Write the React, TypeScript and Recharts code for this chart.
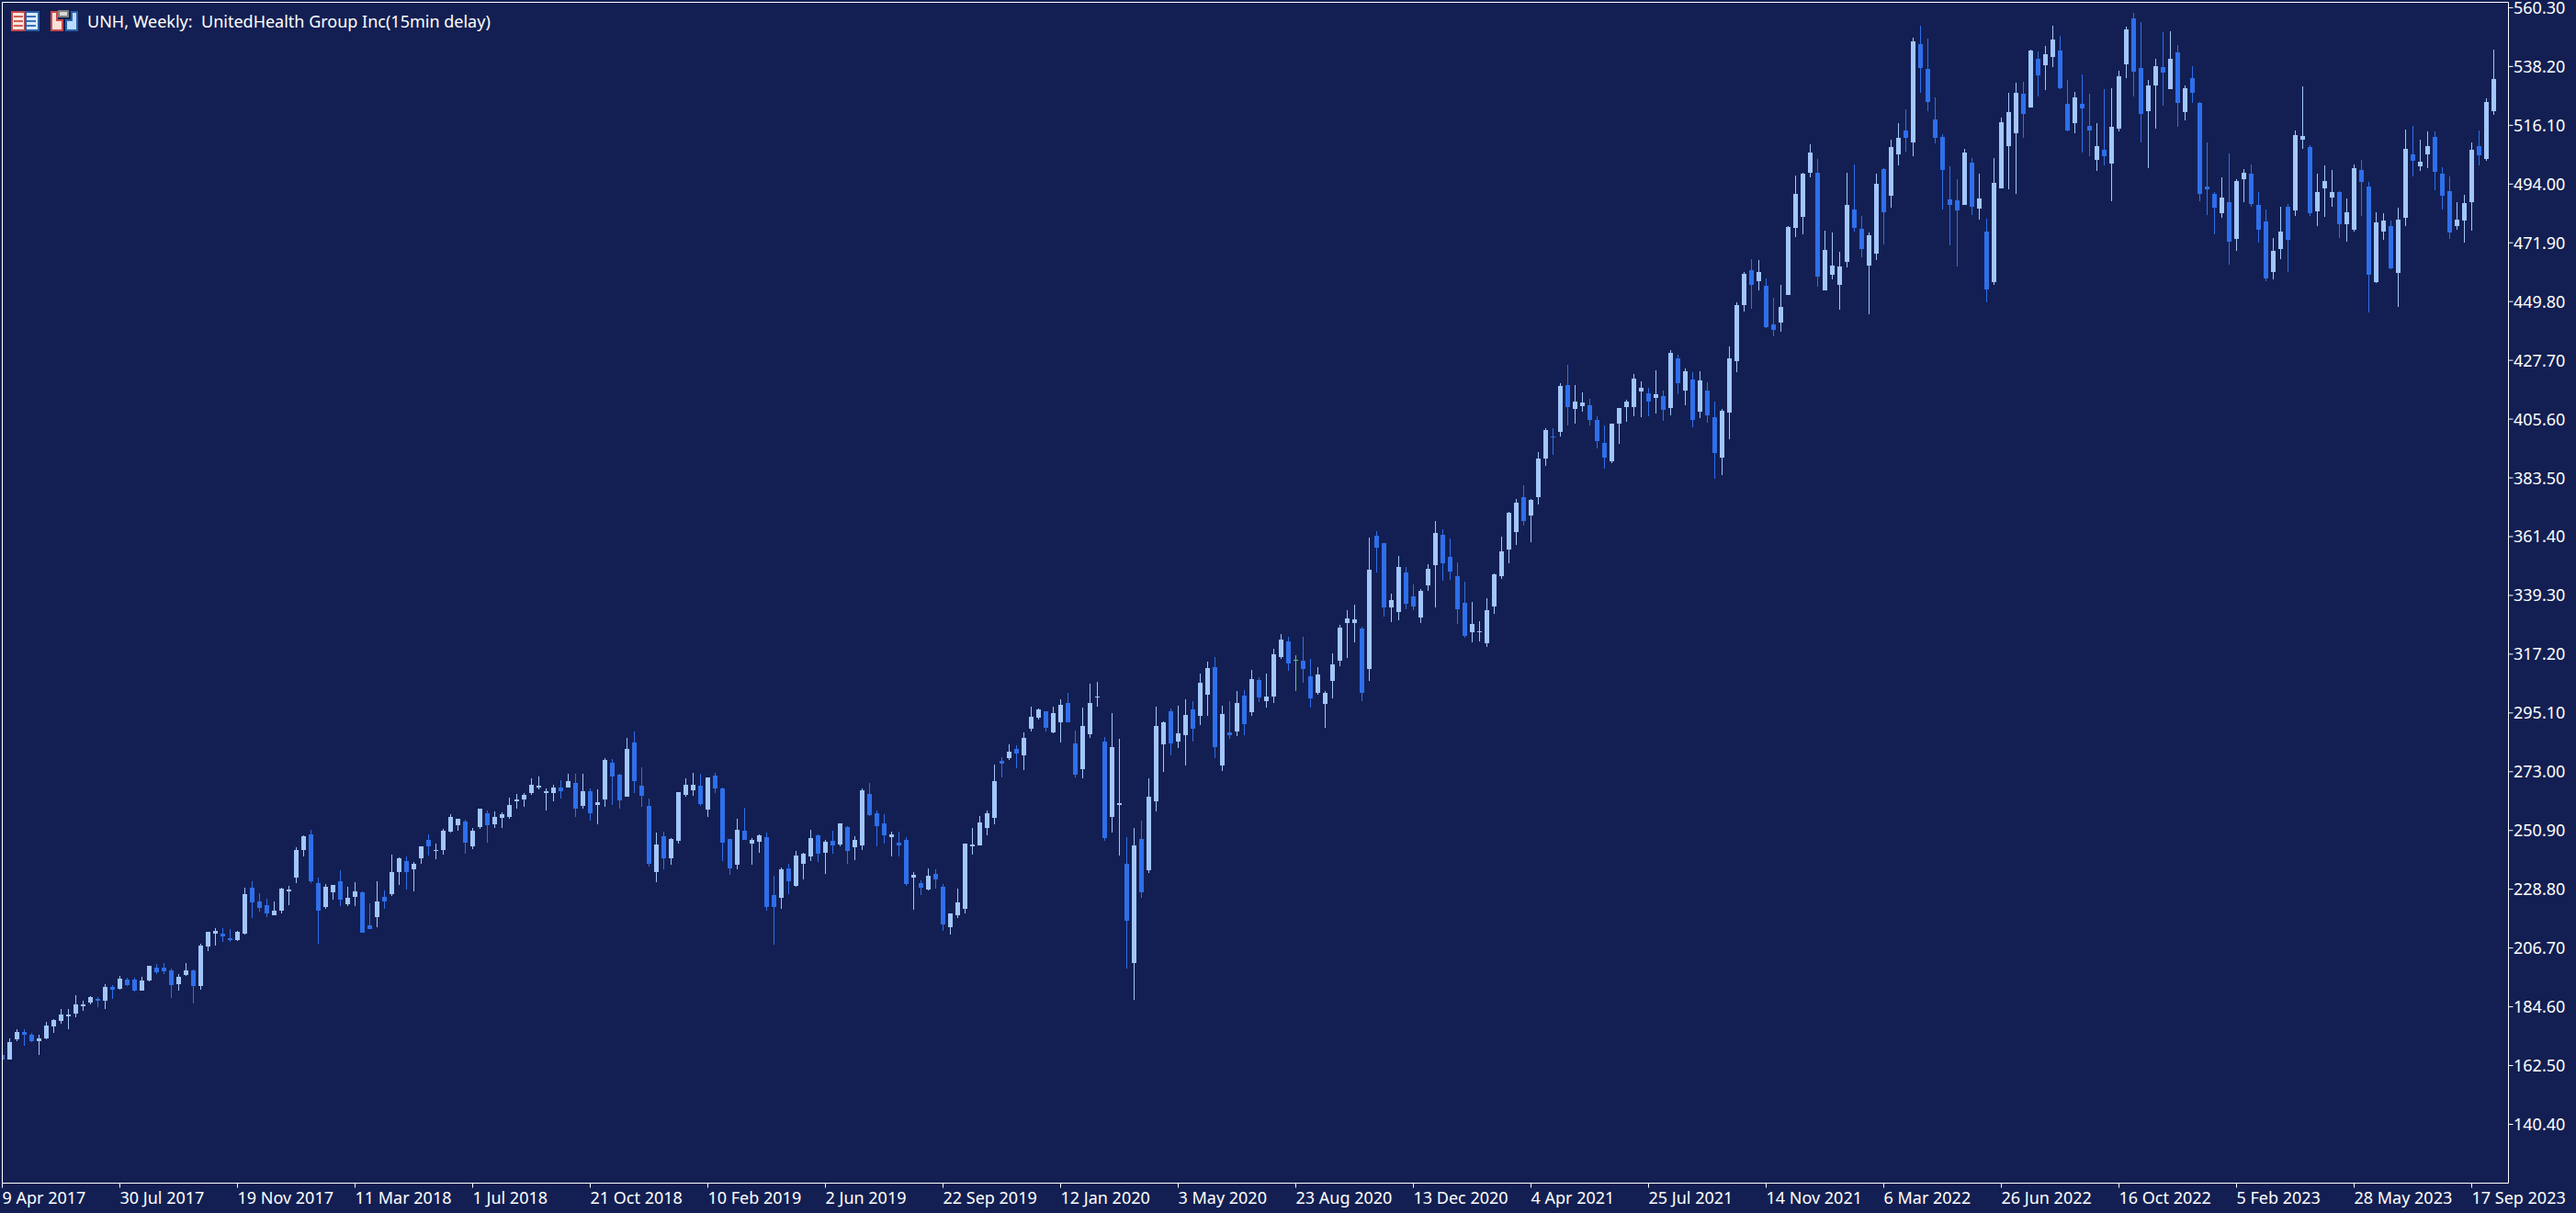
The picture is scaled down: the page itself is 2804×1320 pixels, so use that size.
import { ComposedChart, Bar, XAxis, YAxis, ReferenceLine } from 'recharts';

const BG = '#131f52';
const UP = '#a2c6fb';
const DOWN = '#2f6fea';
const FLAT = '#6fc07a';
const FONT = '"Noto Sans", sans-serif';

// weekly bars of UNH
const opens = [
  166.5,164.7,172.4,175.1,174.1,171.6,172.7,177.2,179.3,181.0,
  182.0,184.8,186.2,187.6,186.9,192.1,191.4,194.8,194.8,190.7,
  194.5,199.3,199.3,198.3,193.1,196.5,198.3,192.4,207.3,212.1,
  212.1,210.4,209.7,212.1,229.4,224.2,222.8,219.0,220.7,228.0,
  233.2,243.5,249.4,231.1,222.1,227.6,231.8,223.2,225.9,227.6,
  215.2,218.3,225.9,227.0,235.2,239.4,236.3,240.4,247.3,243.2,
  243.5,250.5,252.9,254.3,244.9,252.2,257.4,253.2,255.6,256.0,
  261.9,262.6,265.0,267.0,265.0,265.0,267.0,267.0,268.8,260.1,
  265.7,260.5,262.6,276.4,271.9,263.6,284.0,267.7,260.1,235.2,
  248.7,240.4,247.0,264.3,266.0,267.7,258.8,271.5,266.7,247.7,
  238.0,250.8,246.0,246.7,248.4,226.6,225.6,236.6,230.1,238.4,
  241.1,249.1,242.5,247.0,245.7,252.2,244.6,245.3,264.7,257.4,
  253.6,248.4,246.3,247.4,233.2,231.1,228.7,234.6,229.8,214.6,
  219.0,221.5,245.0,245.3,251.9,255.7,277.1,278.1,281.6,279.2,
  289.2,293.4,295.8,287.8,291.6,298.9,283.7,274.0,287.1,301.0,
  284.4,256.0,260.5,238.4,201.1,247.7,236.0,261.9,283.3,295.8,
  284.4,286.8,296.5,294.0,302.0,312.4,275.4,287.8,288.2,301.6,
  295.4,307.5,299.5,301.2,316.1,322.0,315.0,314.7,308.9,302.6,
  298.5,307.1,314.7,328.9,328.9,326.8,311.6,361.7,359.0,334.8,
  333.0,347.9,338.9,331.0,343.1,350.7,362.1,353.8,346.5,336.5,
  325.4,325.4,321.3,335.1,346.5,356.5,363.1,376.2,369.3,376.2,
  390.8,399.1,400.8,418.4,409.4,410.5,410.8,405.3,396.6,389.7,
  403.9,410.1,410.1,416.0,415.3,413.6,414.3,409.8,428.4,416.3,
  420.5,408.4,416.3,406.3,391.1,408.0,427.4,448.4,461.6,457.4,
  455.7,441.2,441.9,452.2,477.5,481.6,498.2,498.2,454.0,459.8,
  456.1,464.7,484.4,477.1,463.3,467.8,499.6,489.6,505.1,514.1,
  509.6,546.6,537.3,518.3,511.7,488.2,487.8,486.1,502.0,484.7,
  476.1,457.1,492.3,508.2,513.1,527.9,522.7,541.1,538.6,541.8,
  544.2,524.1,516.9,524.1,515.8,503.0,506.9,501.7,514.8,539.0,
  556.3,537.6,521.4,531.0,538.0,529.7,543.5,521.0,533.8,524.5,
  493.0,490.3,483.0,487.2,473.3,495.8,497.9,486.1,479.9,460.9,
  469.5,485.4,484.0,510.7,507.9,483.7,492.3,488.9,491.0,478.9,
  476.8,499.2,493.0,457.1,476.1,478.2,460.5,481.3,505.1,500.6,
  505.1,511.7,497.9,491.3,478.2,480.2,487.2,508.2,503.4,521.4,
];
const closes = [
  164.7,171.3,175.1,174.1,171.6,172.7,177.5,179.6,181.7,181.7,
  185.5,185.5,188.2,186.9,192.1,191.0,195.2,192.7,190.7,194.5,
  200.0,197.6,197.9,192.7,195.9,198.3,192.4,207.6,212.8,213.1,
  211.1,209.7,212.8,227.0,223.8,221.8,219.7,220.7,229.0,228.7,
  243.5,248.7,231.8,220.7,229.7,230.4,224.9,225.6,228.0,212.4,
  213.8,224.2,224.2,235.2,240.4,235.2,238.4,244.9,244.9,243.5,
  250.8,256.0,255.3,246.3,250.8,259.1,252.9,256.0,257.0,260.5,
  262.6,264.3,268.1,267.7,265.7,267.0,265.7,269.5,259.1,265.7,
  257.4,261.5,277.4,271.2,262.2,281.6,269.5,263.9,238.4,245.6,
  240.4,247.7,265.3,268.1,268.1,260.8,270.8,266.7,246.3,236.6,
  251.1,247.3,247.3,249.1,222.1,222.1,236.3,231.8,241.5,242.2,
  248.0,242.2,246.7,245.3,253.6,243.2,247.4,266.0,256.7,252.6,
  249.1,249.5,245.3,230.8,234.3,229.4,233.9,232.5,215.6,219.7,
  223.9,246.0,245.7,254.0,257.4,269.5,276.1,280.6,279.9,285.7,
  293.7,296.5,289.6,295.1,298.2,291.6,271.9,290.2,298.9,301.3,
  248.1,282.3,261.2,217.0,245.3,227.7,263.6,290.2,291.6,283.7,
  287.5,294.4,289.2,306.5,312.0,282.3,294.7,286.8,298.9,290.9,
  307.9,300.9,301.2,317.1,322.7,313.7,315.0,311.6,300.6,309.5,
  302.6,313.3,327.2,330.6,330.3,302.6,349.0,357.2,334.8,337.5,
  350.0,336.2,335.1,341.0,349.3,362.8,351.4,348.3,334.1,324.1,
  328.6,325.8,333.7,347.2,355.9,370.4,374.2,367.3,375.2,390.8,
  401.5,398.7,418.1,410.1,412.2,411.8,405.3,397.3,391.1,403.9,
  409.8,412.2,420.8,417.4,412.2,415.0,409.1,430.5,419.1,423.6,
  405.3,420.1,407.0,392.8,408.7,428.4,448.4,460.2,456.1,460.9,
  440.2,439.1,447.8,477.8,490.3,497.9,505.8,459.2,469.2,463.3,
  463.0,486.1,477.5,469.5,474.7,494.1,483.4,507.9,511.3,511.3,
  547.6,537.6,524.8,511.3,499.2,486.1,484.0,505.8,485.4,488.5,
  454.3,494.4,517.2,521.0,528.3,520.3,544.2,534.8,542.8,548.3,
  530.0,514.1,526.6,522.4,514.1,508.2,504.4,515.5,534.5,552.1,
  536.2,520.3,531.0,538.3,535.9,541.1,524.5,530.0,528.3,490.3,
  492.0,485.1,488.9,472.3,495.1,498.2,486.5,476.8,458.5,468.8,
  476.1,473.0,512.4,512.0,483.0,491.0,495.1,491.0,478.9,483.4,
  499.9,494.8,459.8,479.5,480.2,462.3,480.6,507.2,502.7,502.4,
  508.2,498.6,489.6,475.7,480.6,486.8,506.9,504.8,524.8,533.5,
];
const highs = [
  166.5,172.7,176.2,176.2,174.8,174.1,178.9,180.0,183.8,183.8,
  188.9,186.9,188.6,188.2,193.1,192.7,196.2,195.5,195.5,195.9,
  200.0,200.7,201.0,199.0,196.9,201.0,198.6,208.3,212.8,214.2,
  214.2,213.8,213.1,229.4,231.8,227.3,225.2,224.2,229.4,230.1,
  244.6,249.1,251.1,233.2,230.8,230.4,235.9,229.7,231.4,228.0,
  223.5,231.8,228.3,241.8,240.8,241.1,239.0,244.9,249.4,246.0,
  251.5,257.0,255.3,255.0,251.8,259.1,258.4,258.1,257.7,263.2,
  264.6,265.0,270.5,271.2,266.7,268.1,269.8,272.2,272.2,272.2,
  266.7,266.4,278.1,277.8,272.2,285.7,288.1,274.6,262.9,250.1,
  250.5,248.0,265.3,270.5,272.6,272.2,270.8,272.6,267.0,247.7,
  255.3,259.4,248.0,249.4,250.1,233.9,237.0,238.4,243.2,242.5,
  251.1,249.4,247.3,250.8,253.6,252.6,248.8,266.7,268.8,258.4,
  257.0,250.5,250.5,248.4,235.3,232.2,236.7,236.3,230.8,219.7,
  229.1,246.0,251.9,256.4,258.4,275.7,278.5,283.3,283.0,287.8,
  297.5,296.8,295.8,297.5,300.3,302.7,288.5,297.2,306.1,306.8,
  286.1,295.1,285.4,248.4,251.9,254.6,270.5,297.5,292.0,296.8,
  297.8,300.3,299.6,309.9,314.4,316.2,297.8,299.6,303.4,303.7,
  311.3,308.5,309.9,319.2,324.8,323.7,316.8,323.7,315.4,312.3,
  303.3,317.5,328.2,333.7,335.8,327.5,361.0,363.5,359.0,340.0,
  354.1,350.0,343.4,341.7,351.0,367.3,364.2,360.7,351.7,344.5,
  336.8,329.6,338.2,347.6,361.4,370.7,375.6,380.7,375.6,393.2,
  402.2,402.2,419.1,426.0,418.4,415.6,413.2,406.7,403.2,403.9,
  409.8,412.9,422.6,419.8,417.4,424.0,416.3,431.5,429.8,424.6,
  423.3,423.6,419.5,412.2,409.4,432.9,449.5,460.9,465.7,465.4,
  458.5,451.2,456.1,478.2,497.2,498.2,508.9,503.4,476.4,475.7,
  468.5,498.2,501.3,482.0,475.7,497.9,499.9,510.7,516.9,522.1,
  549.0,553.5,548.7,526.6,512.7,500.6,495.8,507.2,503.7,497.9,
  480.9,503.7,519.0,528.3,532.1,532.4,544.5,543.8,545.9,553.5,
  549.7,533.1,528.6,535.2,527.9,516.9,529.7,530.0,536.6,553.2,
  558.3,554.9,533.1,541.1,551.1,551.4,546.2,531.0,538.3,524.8,
  509.6,491.0,496.5,505.5,495.8,499.6,501.3,491.0,484.4,473.7,
  485.4,486.5,514.1,530.7,508.6,497.9,501.0,499.2,491.3,488.5,
  501.3,503.0,494.8,483.4,483.0,480.2,485.1,514.5,515.8,510.7,
  513.8,513.8,500.3,496.8,487.2,489.9,509.6,514.1,526.2,544.5,
];
const lows = [
  164.7,164.7,171.8,169.9,171.3,166.5,172.4,174.8,178.2,176.2,
  180.6,183.1,185.5,184.4,183.8,187.6,191.0,192.4,190.3,190.7,
  194.1,196.9,196.9,187.9,190.7,196.2,185.8,191.0,205.5,207.6,
  209.0,209.0,209.3,211.7,218.0,220.4,218.3,219.0,219.7,222.8,
  231.1,241.1,231.1,208.3,221.4,224.9,222.5,222.5,222.5,212.4,
  213.8,214.5,221.4,226.3,230.4,228.7,228.0,238.4,241.5,240.1,
  241.8,250.1,250.8,242.2,243.9,251.5,246.3,251.8,251.8,255.3,
  259.1,259.8,264.3,266.4,258.4,261.9,262.9,267.0,256.0,259.1,
  254.6,253.2,259.8,260.5,259.1,263.6,265.0,259.8,237.3,231.4,
  236.3,238.0,246.0,263.6,263.9,260.1,256.0,265.0,239.4,234.2,
  236.3,247.3,238.0,242.5,220.7,207.9,221.4,227.0,229.7,232.5,
  239.4,239.0,234.6,242.2,245.0,238.4,239.8,243.6,256.4,245.0,
  246.0,241.2,241.2,230.1,221.1,226.6,228.4,229.1,213.2,211.8,
  218.0,219.7,241.9,245.3,249.1,253.3,270.9,277.5,274.3,273.7,
  288.2,292.7,288.2,287.5,284.0,291.6,270.9,270.5,285.7,297.5,
  247.0,250.2,241.5,199.0,187.2,225.6,235.0,258.1,273.0,279.2,
  282.0,275.4,284.4,290.6,294.0,278.1,273.3,285.4,286.4,286.8,
  294.0,299.2,297.1,298.8,315.4,311.0,303.3,306.4,297.1,301.9,
  289.5,300.6,312.7,315.8,321.6,299.5,307.1,347.9,331.3,329.2,
  329.9,334.1,333.7,328.9,341.0,334.8,344.8,345.1,328.6,323.4,
  321.6,322.0,319.9,332.4,345.5,351.4,358.3,365.5,359.3,373.5,
  388.0,392.1,399.1,403.2,403.9,408.4,403.2,394.6,387.0,389.0,
  396.3,404.6,406.7,406.3,406.7,407.7,405.0,407.0,415.0,410.8,
  402.5,406.0,404.2,383.2,384.5,398.0,423.2,446.0,447.1,454.0,
  439.8,436.7,438.4,452.2,474.0,475.1,496.5,455.4,454.0,458.1,
  446.7,462.6,476.1,466.4,445.0,465.4,471.3,485.1,501.0,506.2,
  504.4,528.3,521.4,509.3,484.4,470.9,463.0,486.1,482.3,480.6,
  449.5,456.1,492.3,492.0,490.3,511.3,522.7,526.9,529.3,538.0,
  529.7,513.8,513.1,505.8,504.4,498.9,501.0,487.5,513.8,533.8,
  526.9,509.6,499.9,514.8,523.4,529.7,515.5,517.9,524.5,487.5,
  482.3,475.1,481.3,463.7,468.8,487.2,485.4,471.9,457.4,458.1,
  465.7,460.9,482.0,507.2,482.0,478.2,481.6,485.4,473.7,472.3,
  476.1,482.0,445.7,456.7,473.0,461.9,447.8,478.2,496.8,498.9,
  499.9,491.6,484.4,473.3,476.8,471.9,476.4,501.0,502.7,520.0,
];

const priceTicks = [
  140.4, 162.5, 184.6, 206.7, 228.8, 250.9, 273.0, 295.1, 317.2, 339.3,
  361.4, 383.5, 405.6, 427.7, 449.8, 471.9, 494.0, 516.1, 538.2, 560.3,
];
const dateTicks = [0, 16, 32, 48, 64, 80, 96, 112, 128, 144, 160, 176, 192, 208, 224, 240, 256, 272, 288, 304, 320, 336];
const dateLabels = [
  '9 Apr 2017', '30 Jul 2017', '19 Nov 2017', '11 Mar 2018', '1 Jul 2018', '21 Oct 2018',
  '10 Feb 2019', '2 Jun 2019', '22 Sep 2019', '12 Jan 2020', '3 May 2020', '23 Aug 2020',
  '13 Dec 2020', '4 Apr 2021', '25 Jul 2021', '14 Nov 2021', '6 Mar 2022', '26 Jun 2022',
  '16 Oct 2022', '5 Feb 2023', '28 May 2023', '17 Sep 2023',
];

const data = opens.map((o, i) => ({
  i,
  open: o,
  close: closes[i],
  range: [lows[i], highs[i]],
}));

// the Bar spans low..high, wick and body are worked out from that span
function Candle(props: any) {
  const { x, y, width, height, payload } = props;
  const [low, high] = payload.range;
  const perUnit = height / (high - low);
  const cx = x + width / 2;
  const color = payload.close > payload.open ? UP : payload.close < payload.open ? DOWN : FLAT;
  const top = Math.round(y + (high - Math.max(payload.open, payload.close)) * perUnit);
  const bottom = Math.round(y + (high - Math.min(payload.open, payload.close)) * perUnit);
  return (
    <g shapeRendering="crispEdges">
      <rect x={cx - 0.5} y={Math.round(y)} width={1} height={Math.max(Math.round(height), 1)} fill={color} />
      <rect x={cx - 2.5} y={top} width={5} height={Math.max(bottom - top, 1)} fill={color} />
    </g>
  );
}

function DateTick({ x, payload }: any) {
  return (
    <text x={x} y={1310} fill="#fff" fontFamily={FONT} fontSize={18} textAnchor="start">
      {dateLabels[dateTicks.indexOf(payload.value)]}
    </text>
  );
}

function PriceTick({ y, payload }: any) {
  return (
    <text x={2736} y={y + 6.5} fill="#fff" fontFamily={FONT} fontSize={18} textAnchor="start">
      {payload.value.toFixed(2)}
    </text>
  );
}

function Header() {
  return (
    <svg width={560} height={40} style={{ position: 'absolute', left: 0, top: 0 }}>
      <g shapeRendering="crispEdges">
        <rect x={12.5} y={12.5} width={14} height={20} fill="#fbe6e0" stroke="#c94a4a" strokeWidth={2} />
        <rect x={27.5} y={12.5} width={14} height={20} fill="#d8ecff" stroke="#2b5fa8" strokeWidth={2} />
        <rect x={15} y={17} width={10} height={2} fill="#d06050" />
        <rect x={15} y={22} width={10} height={2} fill="#d06050" />
        <rect x={15} y={27} width={10} height={2} fill="#d06050" />
        <rect x={29} y={17} width={10} height={2} fill="#3a70b8" />
        <rect x={29} y={22} width={10} height={2} fill="#3a70b8" />
        <rect x={29} y={27} width={10} height={2} fill="#3a70b8" />
        <path d="M55.5 12.5h6v9h6v11h-12z" fill="#fbe0d8" stroke="#c94a4a" strokeWidth={2} />
        <path d="M77.5 12.5h6v20h-12v-11h6z" fill="#b8dcff" stroke="#2b5fa8" strokeWidth={2} />
        <rect x={64} y={12} width={10} height={6} fill="#d8d8d8" stroke="#808080" strokeWidth={1.5} />
      </g>
      <text x={95} y={30} fill="#fff" fontFamily={FONT} fontSize={18} style={{ whiteSpace: 'pre' }}>
        UNH, Weekly:  UnitedHealth Group Inc(15min delay)
      </text>
    </svg>
  );
}

export default function App() {
  return (
    <div style={{ position: 'absolute', left: 0, top: 0, width: 2804, height: 1320, background: BG, overflow: 'hidden' }}>
      <ComposedChart
        width={2804}
        height={1320}
        data={data}
        margin={{ top: 2.5, right: 0, bottom: 0, left: 2.5 }}
        barCategoryGap={0}
      >
        <XAxis
          dataKey="i"
          type="number"
          domain={[0, 341]}
          allowDataOverflow
          ticks={dateTicks}
          interval={0}
          height={32.5}
          stroke="#fff"
          tickSize={5}
          tick={<DateTick />}
        />
        <YAxis
          orientation="right"
          type="number"
          domain={[118.28, 562.35]}
          allowDataOverflow
          ticks={priceTicks}
          interval={0}
          width={73.5}
          stroke="#fff"
          tickSize={5}
          tick={<PriceTick />}
        />
        <ReferenceLine x={0} stroke="#fff" />
        <ReferenceLine y={562.35} stroke="#fff" />
        <Bar dataKey="range" barSize={5} shape={<Candle />} isAnimationActive={false} />
      </ComposedChart>
      <Header />
    </div>
  );
}
